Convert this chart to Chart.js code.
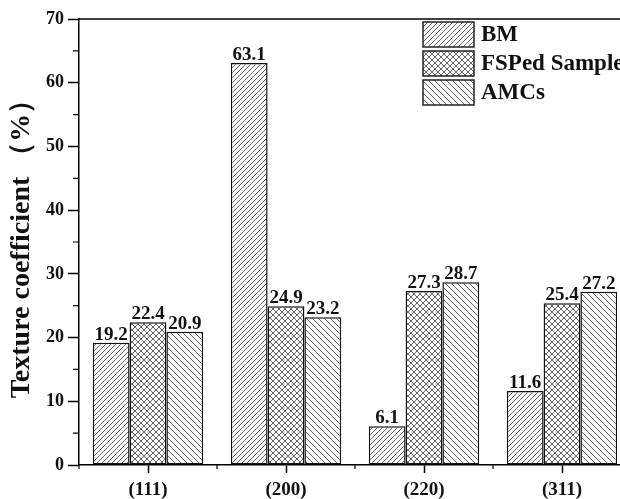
<!DOCTYPE html>
<html>
<head>
<meta charset="utf-8">
<script src="https://cdn.jsdelivr.net/npm/chart.js@4.4.0/dist/chart.umd.min.js"></script>
<style>
html,body{margin:0;padding:0;overflow:hidden;background:#fff;width:620px;height:499px;}
#wrap{position:absolute;left:0;top:0;width:650px;height:499px;}
</style>
</head>
<body>
<div id="wrap"><canvas id="c"></canvas></div>
<script>
const categories = ['(111)', '(200)', '(220)', '(311)'];
const seriesNames = ['BM', 'FSPed Sample', 'AMCs'];
const bmValues = [19.2, 63.1, 6.1, 11.6];
const fspValues = [22.4, 24.9, 27.3, 25.4];
const amcValues = [20.9, 23.2, 28.7, 27.2];
const yTicks = [0, 10, 20, 30, 40, 50, 60, 70];

const SERIF = '"Liberation Serif", "Times New Roman", "DejaVu Serif", serif';

function makePattern(kind) {
  const s = kind === 'fwd' ? 5 : 6;
  const c = document.createElement('canvas');
  c.width = s; c.height = s;
  const g = c.getContext('2d');
  g.fillStyle = '#fff';
  g.fillRect(0, 0, s, s);
  g.strokeStyle = '#555';
  g.lineWidth = 0.9;
  const fwd = () => {
    g.beginPath();
    g.moveTo(-1, s + 1); g.lineTo(s + 1, -1);
    g.moveTo(-1, 1); g.lineTo(1, -1);
    g.moveTo(s - 1, s + 1); g.lineTo(s + 1, s - 1);
    g.stroke();
  };
  const back = () => {
    g.beginPath();
    g.moveTo(-1, -1); g.lineTo(s + 1, s + 1);
    g.moveTo(-1, s - 1); g.lineTo(1, s + 1);
    g.moveTo(s - 1, -1); g.lineTo(s + 1, 1);
    g.stroke();
  };
  if (kind === 'fwd') fwd();
  else if (kind === 'back') back();
  else { fwd(); back(); }
  return document.getElementById('c').getContext('2d').createPattern(c, 'repeat');
}

const patterns = [makePattern('fwd'), makePattern('cross'), makePattern('back')];

const extrasPlugin = {
  id: 'extras',
  afterDraw(chart) {
    const ctx = chart.ctx;
    const area = chart.chartArea;
    const xs = chart.scales.x;
    const ys = chart.scales.y;
    ctx.save();
    ctx.strokeStyle = '#000';
    ctx.lineWidth = 1.5;
    ctx.beginPath();
    ctx.moveTo(area.left, area.top);
    ctx.lineTo(area.right, area.top);
    ctx.moveTo(area.right, area.top);
    ctx.lineTo(area.right, area.bottom);
    ctx.stroke();
    ctx.lineWidth = 1.2;
    ctx.beginPath();
    for (let v = 5; v < 70; v += 10) {
      const py = ys.getPixelForValue(v);
      ctx.moveTo(area.left - 6, py);
      ctx.lineTo(area.left, py);
    }
    const half = (xs.getPixelForValue(1) - xs.getPixelForValue(0)) / 2;
    for (let i = 0; i <= categories.length; i++) {
      const px = xs.getPixelForValue(i) - half;
      ctx.moveTo(px, area.bottom);
      ctx.lineTo(px, area.bottom + 4);
    }
    ctx.stroke();

    ctx.fillStyle = '#111';
    ctx.font = 'bold 19px ' + SERIF;
    ctx.textAlign = 'center';
    ctx.textBaseline = 'alphabetic';
    chart.data.datasets.forEach((ds, di) => {
      const meta = chart.getDatasetMeta(di);
      meta.data.forEach((el, i) => {
        ctx.fillText(ds.data[i].toFixed(1), el.x, el.y - 3);
      });
    });

    const boxX = 423, boxW = 51, boxH = 25;
    const boxY0 = 22, gap = 29;
    ctx.font = 'bold 23px ' + SERIF;
    ctx.textAlign = 'left';
    ctx.textBaseline = 'middle';
    chart.data.datasets.forEach((ds, di) => {
      const by = boxY0 + di * gap;
      ctx.fillStyle = patterns[di];
      ctx.fillRect(boxX, by, boxW, boxH);
      ctx.strokeStyle = '#222';
      ctx.lineWidth = 1.5;
      ctx.strokeRect(boxX, by, boxW, boxH);
      ctx.fillStyle = '#111';
      ctx.fillText(ds.label, boxX + boxW + 7, by + boxH / 2 + 1);
    });
    ctx.restore();
  }
};

const datasets = [bmValues, fspValues, amcValues].map((vals, i) => ({
  label: seriesNames[i],
  data: vals,
  backgroundColor: patterns[i],
  borderColor: '#111',
  borderWidth: 1.5,
  borderSkipped: false,
  categoryPercentage: 0.8,
  barPercentage: 1.0
}));

new Chart(document.getElementById('c'), {
  type: 'bar',
  data: { labels: categories, datasets },
  options: {
    responsive: true,
    maintainAspectRatio: false,
    animation: false,
    layout: { padding: { top: 19, right: 19, left: 0, bottom: 0 } },
    plugins: { legend: { display: false }, tooltip: { enabled: false } },
    scales: {
      x: {
        grid: { offset: false, drawOnChartArea: false, tickLength: 8, tickColor: '#000', tickWidth: 1.5 },
        border: { color: '#000', width: 1.5 },
        ticks: { color: '#111', font: { family: SERIF, size: 19, weight: 'bold' }, padding: 6 },
        afterFit(scale) { scale.height = 34; }
      },
      y: {
        min: 0, max: 70,
        afterBuildTicks(scale) { scale.ticks = yTicks.map(v => ({ value: v })); },
        grid: { drawOnChartArea: false, tickLength: 11, tickColor: '#000', tickWidth: 1.5 },
        border: { color: '#000', width: 1.5 },
        ticks: { color: '#111', font: { family: SERIF, size: 18, weight: 'bold' }, padding: 4 },
        title: {
          display: true,
          text: 'Texture coefficient （%）',
          color: '#111',
          font: { family: SERIF, size: 28, weight: 'bold' },
          padding: { top: 5, bottom: 0 }
        },
        afterFit(scale) { scale.width = 79; }
      }
    }
  },
  plugins: [extrasPlugin]
});
</script>
</body>
</html>
